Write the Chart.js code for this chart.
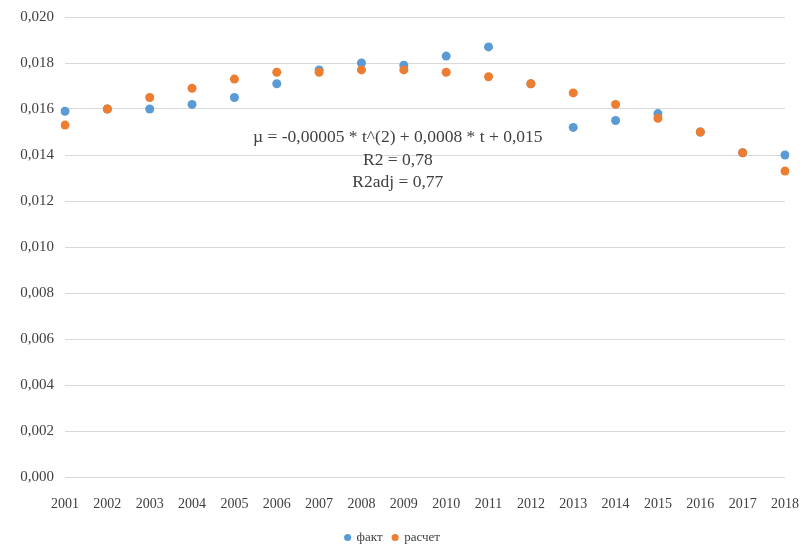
<!DOCTYPE html>
<html>
<head>
<meta charset="utf-8">
<script src="https://cdn.jsdelivr.net/npm/chart.js@4.4.0/dist/chart.umd.min.js"></script>
<style>
  html, body { margin: 0; padding: 0; background: #fff; }
  #wrap { width: 810px; height: 554px; position: relative; }
</style>
</head>
<body>
<div id="wrap"><canvas id="chart"></canvas></div>
<script>
const years = ["2001", "2002", "2003", "2004", "2005", "2006", "2007", "2008", "2009",
  "2010", "2011", "2012", "2013", "2014", "2015", "2016", "2017", "2018"];
const fact = [0.0159, 0.0160, 0.0160, 0.0162, 0.0165, 0.0171, 0.0177, 0.0180, 0.0179,
  0.0183, 0.0187, 0.0171, 0.0152, 0.0155, 0.0158, 0.0150, 0.0141, 0.0140];
const calc = [0.0153, 0.0160, 0.0165, 0.0169, 0.0173, 0.0176, 0.0176, 0.0177, 0.0177,
  0.0176, 0.0174, 0.0171, 0.0167, 0.0162, 0.0156, 0.0150, 0.0141, 0.0133];
const yTicks = [0, 0.002, 0.004, 0.006, 0.008, 0.010, 0.012, 0.014, 0.016, 0.018, 0.020];
const noteLines = [
  "\u00b5 = -0,00005 * t^(2) + 0,0008 * t + 0,015",
  "R2 = 0,78",
  "R2adj = 0,77",
];

const serif = "'Liberation Serif', 'DejaVu Serif', serif";
const fmt = (v) => v.toFixed(3).replace(".", ",");

// regression text in the middle of the plot
const notePlugin = {
  id: "note",
  afterDatasetsDraw(chart) {
    const { ctx, scales } = chart;
    const x = scales.x.getPixelForValue(8) - 6;
    const y0 = scales.y.getPixelForValue(0.01475);
    ctx.save();
    ctx.font = "17.5px " + serif;
    ctx.fillStyle = "#404040";
    ctx.textAlign = "center";
    ctx.textBaseline = "middle";
    noteLines.forEach((t, i) => ctx.fillText(t, x, y0 + i * 22.5));
    ctx.restore();
  },
};

new Chart(document.getElementById("chart"), {
  type: "line",
  data: {
    labels: years,
    datasets: [
      {
        label: "факт",
        data: fact,
        showLine: false,
        pointRadius: 4.5,
        pointHoverRadius: 4.5,
        backgroundColor: "#5B9BD5",
        borderColor: "#5B9BD5",
        borderWidth: 0,
        order: 2,
      },
      {
        label: "расчет",
        data: calc,
        showLine: false,
        pointRadius: 4.5,
        pointHoverRadius: 4.5,
        backgroundColor: "#ED7D31",
        borderColor: "#ED7D31",
        borderWidth: 0,
        order: 1,
      },
    ],
  },
  options: {
    responsive: true,
    maintainAspectRatio: false,
    animation: false,
    layout: { padding: { top: 17, right: 25, left: 0, bottom: 0 } },
    scales: {
      x: {
        offset: false,
        grid: { display: false },
        border: { display: false },
        ticks: {
          padding: 11,
          color: "#404040",
          font: { family: serif, size: 14 },
          maxRotation: 0,
          autoSkip: false,
        },
        afterFit(scale) { scale.height = 44; },
      },
      y: {
        min: 0,
        max: 0.02,
        afterBuildTicks(scale) { scale.ticks = yTicks.map((v) => ({ value: v })); },
        grid: { color: "#d9d9d9", lineWidth: 1, drawTicks: false },
        border: { display: false },
        ticks: {
          padding: 11,
          color: "#404040",
          font: { family: serif, size: 15 },
          callback: (v) => fmt(v),
        },
        afterFit(scale) {
          scale.width = 65;
          scale.paddingTop = 0;
          scale.paddingBottom = 0;
        },
      },
    },
    plugins: {
      legend: {
        position: "bottom",
        labels: {
          usePointStyle: true,
          pointStyle: "circle",
          boxWidth: 5,
          boxHeight: 5,
          padding: 10,
          color: "#404040",
          font: { family: serif, size: 13 },
          sort: (a, b) => a.datasetIndex - b.datasetIndex,
        },
      },
      tooltip: { enabled: false },
    },
  },
  plugins: [notePlugin],
});
</script>
</body>
</html>
